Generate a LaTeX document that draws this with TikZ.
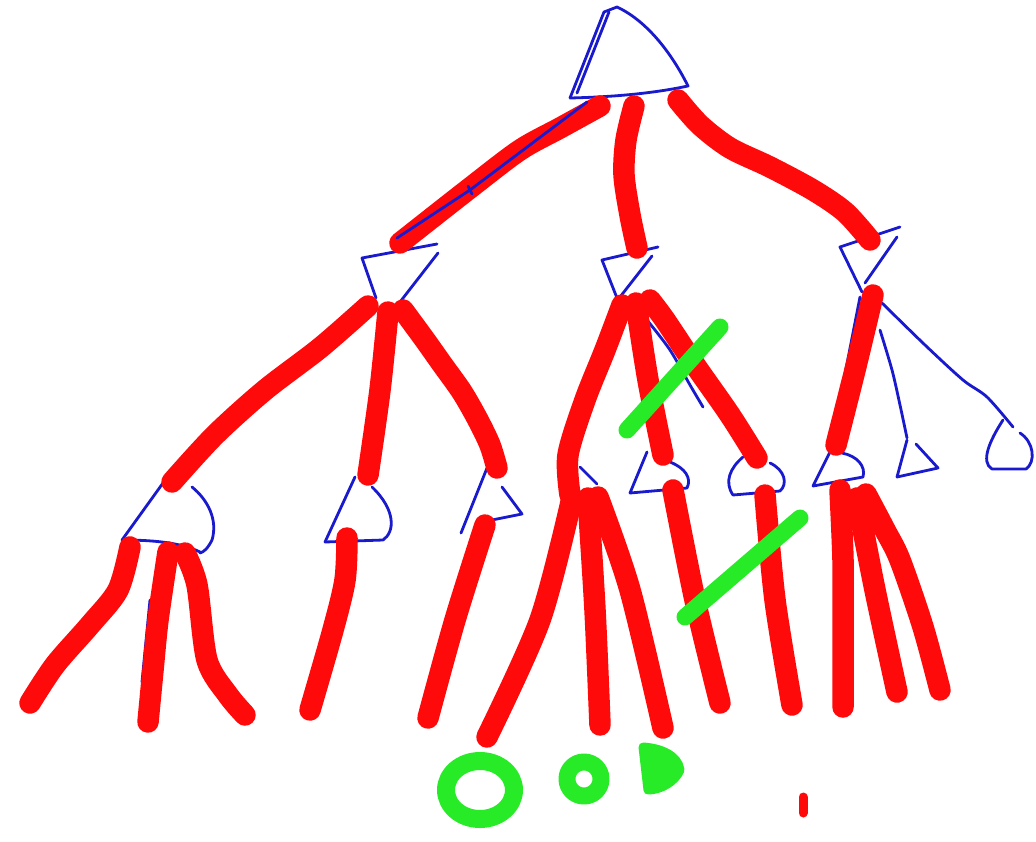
\documentclass[tikz,border=0pt]{standalone}
\begin{document}
\definecolor{ink}{RGB}{255,10,10}
\definecolor{pen}{RGB}{25,25,205}
\definecolor{mark}{RGB}{40,235,40}
\begin{tikzpicture}[x=1pt,y=-1pt,
  tri/.style={draw=pen,line width=2.8pt,line cap=round,line join=round},
  edge/.style={draw=ink,line width=21.5pt,line cap=round,line join=round},
  cross/.style={draw=mark,line width=17pt,line cap=round,line join=round}]
\useasboundingbox (0,0) rectangle (1036,841);
\fill[white] (0,0) rectangle (1036,841);

% ---- blue triangles (tree nodes) ----
% root
\draw[tri] (570,98) -- (604,12) -- (617,7) .. controls (645,20) and (670,50) .. (688,86)
  .. controls (650,94) and (610,97) .. (570,98);
\draw[tri] (577,93) -- (609,12);
% second level
\draw[tri] (437,244) -- (362,258) -- (376,298);
\draw[tri] (438,253) -- (400,302);
\draw[tri] (658,247) -- (602,260) -- (617,298);
\draw[tri] (652,256) -- (620,297);
\draw[tri] (900,227) -- (840,247) -- (862,292);
\draw[tri] (897,237) -- (865,283);
% thin branches from the right node
\draw[tri] plot[smooth] coordinates {(882,303) (925,345) (963,380) (987,397) (1013,427)};
\draw[tri] plot[smooth] coordinates {(880,330) (892,370) (900,405) (907,438)};
\draw[tri] (860,297) -- (836,420);
\draw[tri] plot[smooth] coordinates {(647,320) (670,350) (690,385) (703,407)};
\draw[tri] (580,467) -- (597,484);
\draw[tri] (142,682) -- (150,600);
% third level
\draw[tri] (163,483) -- (122,540) .. controls (150,540) and (180,542) .. (200,552);
\draw[tri] (192,487) .. controls (208,500) and (218,520) .. (212,540) .. controls (208,548) and (204,552) .. (200,553);
\draw[tri] (355,477) -- (325,542) -- (383,540) .. controls (395,532) and (396,510) .. (372,487);
\draw[tri] (487,468) -- (461,533);
\draw[tri] (477,523) -- (522,514) -- (502,487);
\draw[tri] (647,452) -- (630,493) -- (687,488) .. controls (692,478) and (685,468) .. (670,462);
\draw[tri] (743,457) .. controls (730,468) and (724,482) .. (733,495) -- (780,491)
  .. controls (788,484) and (785,470) .. (770,463);
\draw[tri] (830,452) -- (813,486) -- (863,477) .. controls (866,466) and (857,456) .. (842,453);
\draw[tri] (907,440) -- (897,477) -- (938,468) -- (916,444);
\draw[tri] (1003,420) .. controls (990,440) and (980,462) .. (992,469) -- (1026,469)
  .. controls (1036,462) and (1034,442) .. (1020,433);

% ---- red edges ----
% from the root
\draw[edge] plot[smooth] coordinates {(600,106) (560,128) (520,150) (470,188) (400,243)};
\draw[edge] plot[smooth] coordinates {(634,106) (626,140) (624,175) (630,215) (637,248)};
\draw[edge] plot[smooth] coordinates {(678,100) (700,125) (730,148) (770,167) (813,190) (845,212) (870,240)};
% from the left node
\draw[edge] plot[smooth] coordinates {(368,306) (320,348) (265,390) (215,435) (172,482)};
\draw[edge] plot[smooth] coordinates {(388,312) (380,390) (368,475)};
\draw[edge] plot[smooth] coordinates {(403,310) (425,340) (442,364) (462,392) (478,420) (490,445) (497,468)};
% from the middle node
\draw[edge] plot[smooth] coordinates {(622,305) (605,350) (585,400) (568,455) (570,495)};
\draw[edge] plot[smooth] coordinates {(636,303) (648,380) (663,455)};
\draw[edge] plot[smooth] coordinates {(650,300) (665,320) (695,365) (730,415) (757,458)};
% from the right node
\draw[edge] plot[smooth] coordinates {(873,295) (855,370) (836,445)};
% leaves
\draw[edge] plot[smooth] coordinates {(130,547) (118,590) (90,625) (55,665) (30,703)};
\draw[edge] plot[smooth] coordinates {(168,552) (158,620) (153,670) (148,722)};
\draw[edge] plot[smooth] coordinates {(185,553) (197,585) (207,660) (228,695) (245,715)};
\draw[edge] plot[smooth] coordinates {(347,538) (345,580) (333,630) (310,710)};
\draw[edge] plot[smooth] coordinates {(485,525) (455,620) (428,718)};
\draw[edge] plot[smooth] coordinates {(572,498) (540,620) (487,737)};
\draw[edge] plot[smooth] coordinates {(588,498) (595,610) (600,725)};
\draw[edge] plot[smooth] coordinates {(598,497) (630,590) (663,728)};
\draw[edge] plot[smooth] coordinates {(673,490) (695,600) (720,703)};
\draw[edge] plot[smooth] coordinates {(765,495) (775,600) (792,705)};
\draw[edge] plot[smooth] coordinates {(840,490) (843,560) (843,627) (843,707)};
\draw[edge] plot[smooth] coordinates {(857,498) (875,590) (897,692)};
\draw[edge] plot[smooth] coordinates {(866,494) (885,530) (900,560) (923,627) (940,690)};
\draw[ink,line width=9pt,line cap=round] (803,797) -- (803,813);

% blue pen line traced over the first edge
\draw[tri] (587,102) -- (470,190) -- (397,238);
\draw[tri] (468,186) -- (472,194);

% ---- green marks ----
\draw[cross] (627,430) -- (720,327);
\draw[cross] (685,617) -- (800,518);
\draw[cross,line width=18pt] (480,790) ellipse [x radius=34, y radius=29];
\draw[cross] (584,779) circle [radius=17];
\filldraw[draw=mark,fill=mark,line width=9pt,line join=round]
  (643,747) .. controls (660,748) and (678,755) .. (680,770) .. controls (675,782) and (660,790) .. (648,790) -- cycle;
\end{tikzpicture}
\end{document}
